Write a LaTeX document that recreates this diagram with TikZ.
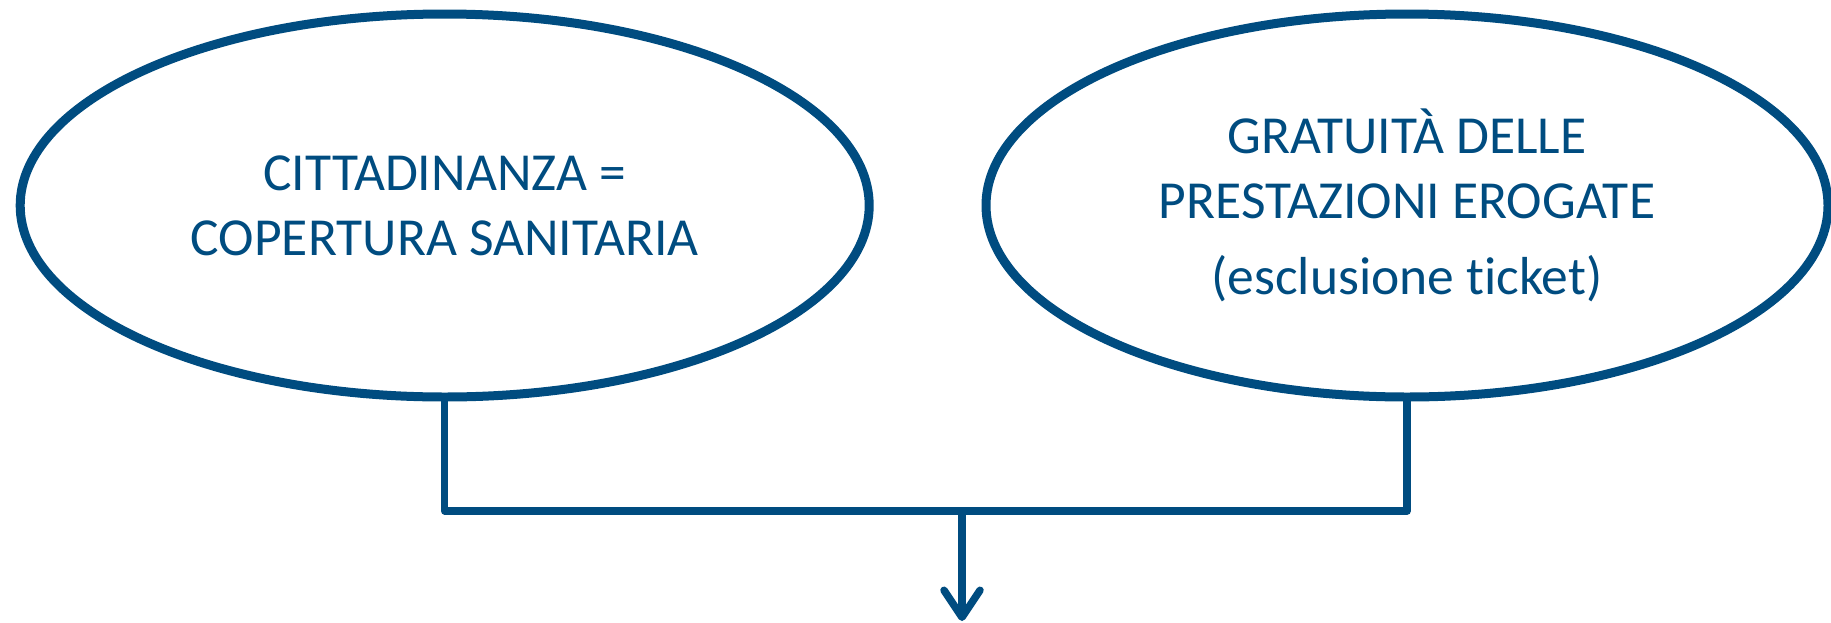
\documentclass[tikz,border=0pt]{standalone}
\usepackage{fontspec}
\setmainfont{Carlito}[Ligatures=NoCommon]
\usetikzlibrary{shapes.geometric,arrows.meta}
\definecolor{navy}{RGB}{0,76,128}
\tikzset{
  bubble/.style={ellipse, draw=navy, line width=9pt, inner sep=0pt,
    text=navy, align=center, font=\fontsize{53.5}{65}\selectfont},
  conn/.style={draw=navy, line width=7.5pt, line join=round, line cap=round},
  flow/.style={conn, -{Straight Barb[length=27pt, width=36pt, line cap=round, line join=round]}}
}
\begin{document}
\begin{tikzpicture}[x=1pt, y=-1pt]
  \useasboundingbox (0,0) rectangle (1831,622);
  % the two conditions
  \node[bubble, minimum width=849pt, minimum height=383pt] (cit) at (444.7,205.5)
    {CITTADINANZA =\\COPERTURA SANITARIA};
  \node[bubble, minimum width=842pt, minimum height=383pt] (grat) at (1407,205.5)
    {GRATUIT\`A DELLE\\PRESTAZIONI EROGATE\\[11pt](esclusione ticket)};
  % junction and outgoing arrow
  \coordinate (join) at (962,511);
  \coordinate (out) at (962,621);
  \draw[conn] (cit.south) |- (join) -| (grat.south);
  \draw[flow] (join) -- (out);
\end{tikzpicture}
\end{document}
